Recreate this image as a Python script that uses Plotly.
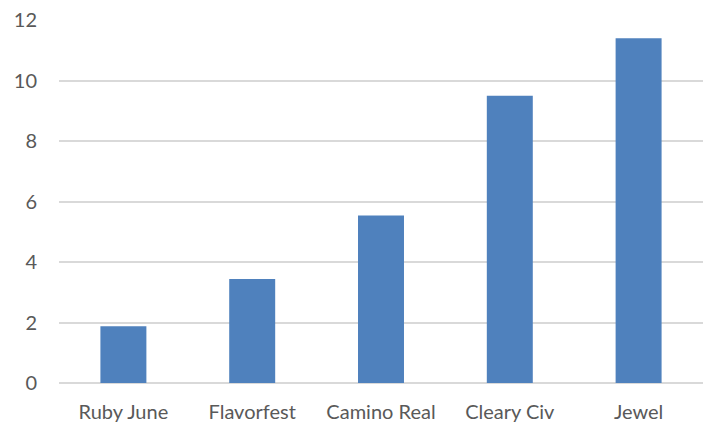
import plotly.graph_objects as go

categories = ["Ruby June", "Flavorfest", "Camino Real", "Cleary Civ", "Jewel"]
values = [1.88, 3.44, 5.54, 9.50, 11.40]
y_ticks = [0, 2, 4, 6, 8, 10, 12]

fig = go.Figure(go.Bar(
    x=categories, y=values,
    marker=dict(color="#4F81BD", line=dict(width=0)),
    width=0.357,
))

font = dict(family="Lato", size=20, color="#595959")
fig.update_layout(
    width=704, height=425,
    margin=dict(l=59, r=1, t=20, b=42),
    paper_bgcolor="white", plot_bgcolor="white",
    showlegend=False,
    font=font,
    bargap=0.64,
)
fig.update_xaxes(showgrid=False, showline=False, ticks="", ticklabelstandoff=15, tickfont=font)
fig.update_yaxes(range=[0, 12], tickvals=y_ticks, showgrid=True, gridcolor="#D9D9D9", gridwidth=1.5,
                 zeroline=True, zerolinecolor="#D9D9D9", zerolinewidth=1.5,
                 showline=False, ticks="", ticklabelstandoff=21, tickfont=font)

fig.write_html("out.html")
